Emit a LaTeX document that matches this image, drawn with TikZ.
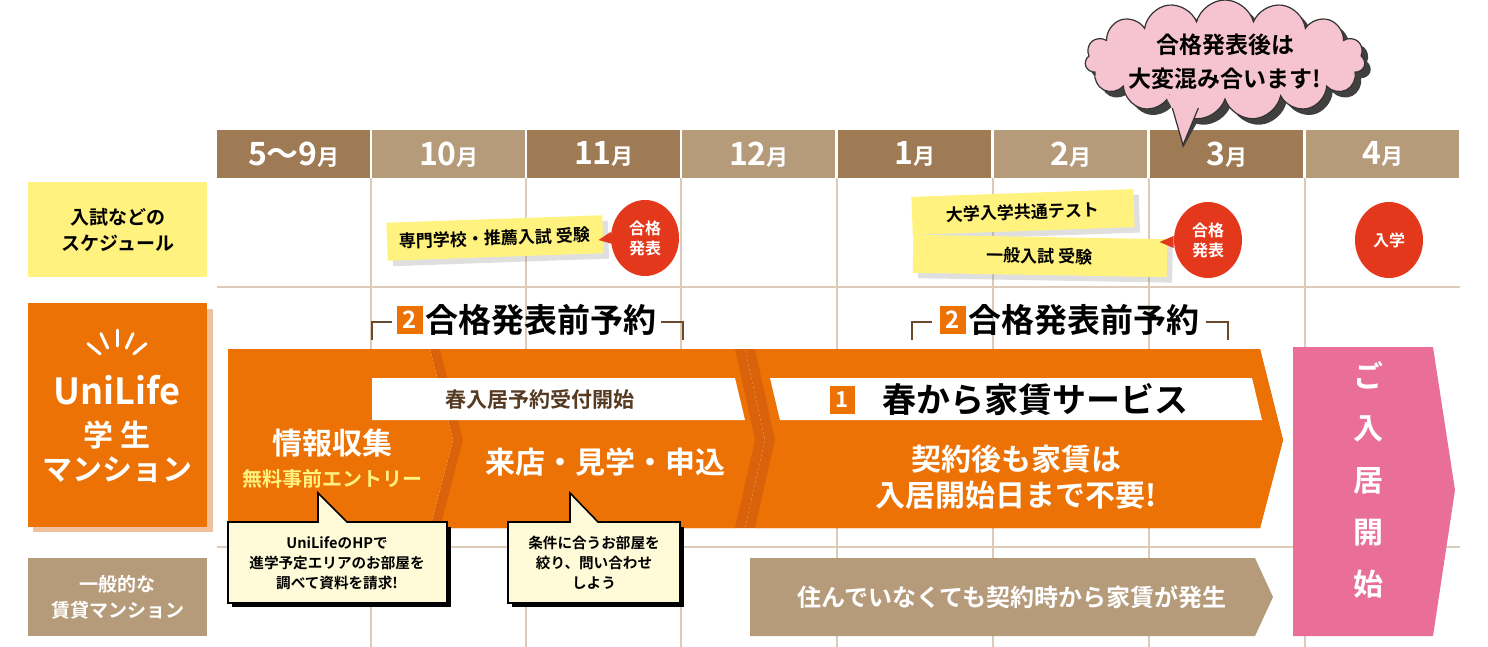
\documentclass[tikz,border=0pt]{standalone}
\usepackage{fontspec}
\setmainfont{Noto Sans CJK JP}[BoldFont={* Bold}]
\newfontfamily\jb{Noto Sans CJK JP Bold}
\usetikzlibrary{shapes.symbols,shapes.geometric,shadows}
\definecolor{bdark}{HTML}{9E7A55}
\definecolor{blight}{HTML}{B69B7B}
\definecolor{grid}{HTML}{DCCBB8}
\definecolor{org}{HTML}{EC7205}
\definecolor{orgd}{HTML}{D9620A}
\definecolor{yel}{HTML}{FFF27E}
\definecolor{redc}{HTML}{E4381C}
\definecolor{pinkc}{HTML}{EA6F98}
\definecolor{cloudc}{HTML}{F6C3D0}
\definecolor{pale}{HTML}{FFFBD8}
\definecolor{brk}{HTML}{6B4A2B}
\begin{document}
\begin{tikzpicture}[x=0.5pt,y=-0.5pt,font=\jb,
  month/.style={minimum width=76.5pt,minimum height=24pt,inner sep=0,text=white,font=\jb\fontsize{16}{16}\selectfont},
  note/.style={fill=yel,inner sep=0,minimum height=19pt,font=\jb\fontsize{8.5}{9}\selectfont,drop shadow={opacity=0.25}},
  redb/.style={ellipse,fill=redc,text=white,inner sep=0,minimum width=34pt,minimum height=38pt,align=center,font=\jb\fontsize{8}{10}\selectfont},
  call/.style={fill=pale,draw=black,line width=0.8pt},
  wt/.style={text=white,align=center}]
\useasboundingbox (0,0) rectangle (1488,647);
% grid
\foreach \x in {371,526,681,837,993,1149,1305}
  \draw[grid,line width=0.7pt] (\x,178) -- (\x,647);
\draw[grid,line width=0.7pt] (217,287) -- (1460,287) (217,547) -- (1460,547);
% months
\foreach \x/\t/\c [count=\i] in {217/5〜9/bdark,372/10/blight,527/11/bdark,682/12/blight,838/1/bdark,994/2/blight,1150/3/bdark,1306/4/blight}
  \node[month,fill=\c,anchor=north west] (m\i) at (\x,130) {\t{\fontsize{11}{11}\selectfont 月}};
% left labels
\node[fill=yel,minimum width=89.5pt,minimum height=47.5pt,anchor=north west,align=center,font=\jb\fontsize{9.5}{13}\selectfont] (lab1) at (28,182) {入試などの\\スケジュール};
\fill[orgd!40] (33,309) rectangle (213,532);
\node[fill=org,minimum width=89.5pt,minimum height=112pt,anchor=north west] (lab2) at (28,303) {};
\node[wt,font=\jb\fontsize{18}{18}\selectfont] (uni) at (117,390) {UniLife};
\node[wt,font=\jb\fontsize{15}{17}\selectfont] (gak) at (117,452) {学 生\\マンション};
\foreach \a in {40,65,90,115,140}
  \draw[white,line width=1.5pt,line cap=round] (117,368) ++(\a:11pt) -- ++(\a:8pt);
\node[fill=blight,minimum width=89.5pt,minimum height=39pt,anchor=north west,wt,font=\jb\fontsize{9.5}{13}\selectfont] (lab3) at (28,558) {一般的な\\賃貸マンション};
% schedule notes
\node[note,rotate=2,minimum width=108pt] (n1) at (495,238) {専門学校・推薦入試 受験};
\node[note,rotate=2,minimum width=111pt] (n2) at (1023,212) {大学入学共通テスト};
\node[note,rotate=-1,minimum width=127pt] (n3) at (1040,256) {一般入試 受験};
\node[redb] (r1) at (645,238) {合格\\発表};
\fill[redc] (r1.west) ++(0,-6) -- ++(-12,8) -- ++(14,4) -- cycle;
\node[redb] (r2) at (1208,240) {合格\\発表};
\fill[redc] (r2.west) ++(0,-4) -- ++(-14,6) -- ++(14,6) -- cycle;
\node[redb] (r3) at (1389,240) {入学};
% brackets
\foreach \a/\b/\c in {372/683/527,912/1228/1070}{
  \draw[brk,line width=1.2pt] (\a,340) -- (\a,322) -- (\a+20,322);
  \draw[brk,line width=1.2pt] (\b,340) -- (\b,322) -- (\b-22,322);
  \node[font=\jb\fontsize{16.5}{16.5}\selectfont] at (\c+14,320) {合格発表前予約};
  \fill[org] (\c-130,306) rectangle (\c-104,334);
  \node[text=white,font=\jb\fontsize{12}{12}\selectfont] at (\c-117,320) {2};
}
% big arrow
\fill[orgd] (745,349) -- (1260,349) -- (1283,440) -- (1260,528) -- (745,528) -- (765,440) -- cycle;
\fill[org] (755,349) -- (1260,349) -- (1283,440) -- (1260,528) -- (755,528) -- (775,440) -- cycle;
\fill[orgd] (430,349) -- (745,349) -- (765,440) -- (745,528) -- (430,528) -- (453,440) -- cycle;
\fill[org] (440,349) -- (735,349) -- (755,440) -- (735,528) -- (440,528) -- (463,440) -- cycle;
\fill[org] (228,349) -- (430,349) -- (453,440) -- (430,528) -- (228,528) -- cycle;
\fill[white] (372,378) -- (735,378) -- (745,420) -- (372,420) -- cycle;
\node[font=\jb\fontsize{10.5}{10.5}\selectfont,text=brk!80!black] (b1) at (540,400) {春入居予約受付開始};
\fill[white] (770,378) -- (1252,378) -- (1262,420) -- (780,420) -- cycle;
\fill[org] (830,386) rectangle (855,414);
\node[text=white,font=\jb\fontsize{11}{11}\selectfont] at (842,400) {1};
\node[font=\jb\fontsize{17}{17}\selectfont] (b2) at (1035,400) {春から家賃サービス};
\node[wt,font=\jb\fontsize{15}{15}\selectfont] (t1) at (332,443) {情報収集};
\node[text=yel,font=\jb\fontsize{10}{10}\selectfont] (t2) at (332,479) {無料事前エントリー};
\node[wt,font=\jb\fontsize{15}{15}\selectfont] (t3) at (605,462) {来店・見学・申込};
\node[wt,font=\jb\fontsize{15}{18}\selectfont] (t4) at (1016,477) {契約後も家賃は\\入居開始日まで不要!};
% callouts
\fill[black] (232,527) rectangle (451,607);
\draw[call] (228,522) -- (318,522) -- (318,493) -- (347,522) -- (447,522) -- (447,603) -- (228,603) -- cycle;
\node[align=center,font=\jb\fontsize{7.3}{10}\selectfont] (c1) at (337,563) {UniLifeのHPで\\進学予定エリアのお部屋を\\調べて資料を請求!};
\fill[black] (512,527) rectangle (684,607);
\draw[call] (508,522) -- (570,522) -- (570,493) -- (598,522) -- (680,522) -- (680,603) -- (508,603) -- cycle;
\node[align=center,font=\jb\fontsize{7.3}{10}\selectfont] (c2) at (594,563) {条件に合うお部屋を\\絞り、問い合わせ\\しよう};
% brown arrow
\fill[blight] (750,558) -- (1255,558) -- (1273,597) -- (1255,636) -- (750,636) -- cycle;
\node[wt,font=\jb\fontsize{12}{12}\selectfont] (g1) at (1012,597) {住んでいなくても契約時から家賃が発生};
% pink arrow
\fill[pinkc] (1293,347) -- (1433,347) -- (1455,490) -- (1433,636) -- (1293,636) -- cycle;
\node[wt,font=\jb\fontsize{15}{26}\selectfont] (p1) at (1368,480) {ご\\入\\居\\開\\始};
% cloud
\node[cloud,cloud puffs=15,aspect=2.3,fill=black!75,minimum width=140pt,minimum height=60pt] at (1231,66) {};
\fill[black!75] (1175,105) -- (1183,148) -- (1205,108) -- cycle;
\node[cloud,cloud puffs=15,aspect=2.3,fill=cloudc,draw=black!80,line width=0.6pt,minimum width=140pt,minimum height=60pt] (cl) at (1225,60) {};
\draw[fill=cloudc,draw=black!80,line width=0.6pt] (1170,100) -- (1183,145) -- (1200,104);
\fill[cloudc] (1165,95) -- (1172,108) -- (1205,108) -- (1210,95) -- cycle;
\node[align=center,font=\jb\fontsize{11.5}{17}\selectfont] at (1225,62) {合格発表後は\\大変混み合います!};
\end{tikzpicture}
\end{document}
